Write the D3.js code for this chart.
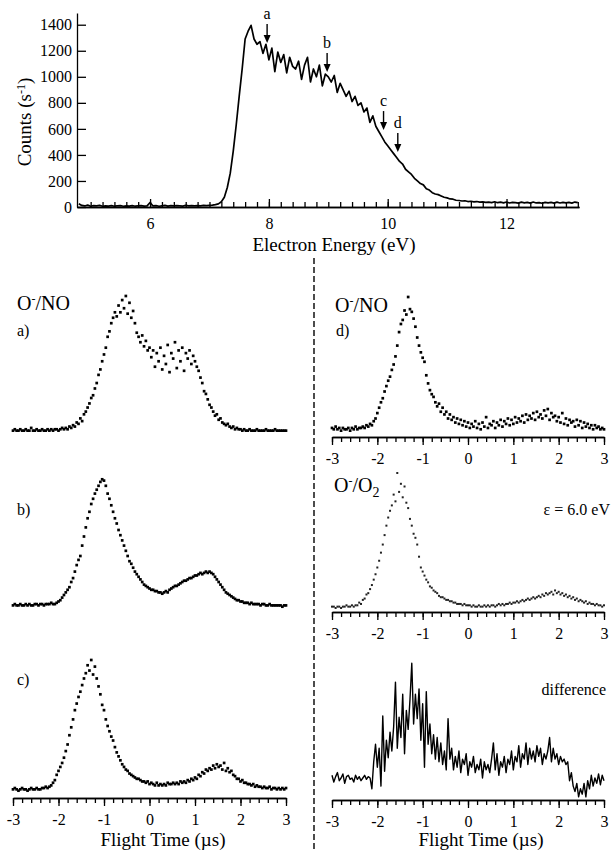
<!DOCTYPE html>
<html>
<head>
<meta charset="utf-8">
<script src="https://cdn.jsdelivr.net/npm/d3@7"></script>
<style>
body { margin: 0; background: #fff; }
svg { display: block; }
svg text { font-family: "Liberation Serif", "DejaVu Serif", serif; fill: #000; }
.axis path, .axis line { stroke: #000; stroke-width: 1.3; }
.axis text { font-family: "Liberation Serif", "DejaVu Serif", serif; font-size: 16px; }
</style>
</head>
<body>
<svg id="fig" width="613" height="850"></svg>
<script>
// ---- data: electron energy spectrum (4.80 .. 13.20 eV, 0.05 eV steps)
var ENERGY_START = 4.8, ENERGY_STEP = 0.05;
var spectrumCounts = [
  25,12,8,14,6,10,8,12,6,9,
  7,11,6,8,10,6,9,7,11,6,
  8,10,7,9,35,8,10,6,9,12,
  7,10,8,11,9,7,12,8,10,9,
  11,8,12,10,13,15,18,24,40,75,
  150,260,430,630,850,1060,1290,1350,1395,1290,
  1250,1270,1180,1250,1130,1220,1040,1190,1110,1170,
  1030,1150,1080,1060,1120,980,1090,1150,960,1060,
  1000,1090,930,1020,1000,960,1010,880,950,900,
  850,890,810,850,780,800,730,760,650,700,
  620,580,540,500,470,440,410,380,350,330,
  290,270,250,220,200,180,170,140,130,110,
  100,95,85,75,70,62,60,52,50,46,
  48,42,44,40,42,38,40,36,38,34,
  40,33,37,32,38,31,36,33,30,37,
  32,35,30,38,31,34,29,36,32,35,
  30,37,31,36,32,35,30,38,33
];
var countTicks = [0, 200, 400, 600, 800, 1000, 1200, 1400];
var energyLabels = [6, 8, 10, 12];

var arrowLabels = ["a", "b", "c", "d"];
var arrowEnergies = [7.97, 8.98, 9.93, 10.17];
var arrowTips = [1260, 1037, 591, 422];

// ---- data: flight-time distributions (-3 .. 3 us, 0.04 us steps), relative intensity
var T_START = -3, T_STEP = 0.04;
var panelA = [
  1,2,1,1,2,1,1,2,1,1, 3,1,1,2,1,1,2,1,1,2, 1,2,1,2,2,1,2,3,2,3,
  2,4,3,5,4,7,6,10,8,13, 15,18,21,25,27,32,36,42,46,52,
  57,62,70,74,80,84,88,85,93,88, 97,91,100,87,95,84,89,80,73,70,
  66,71,63,67,60,62,55,60,48,58, 52,62,46,56,50,64,44,58,54,66,
  47,60,52,62,45,58,54,60,50,56, 52,48,45,40,36,30,28,24,20,18,
  15,12,13,9,10,7,6,5,6,4, 3,4,2,3,2,2,1,2,1,1,
  2,1,1,1,2,1,1,1,1,2, 1,1,1,1,2,1,1,1,1,1, 1
];
var panelB = [
  2,3,2,2,3,2,2,3,2,3, 2,2,3,3,2,3,3,2,3,3, 3,4,3,3,4,5,6,8,10,12,
  14,16,20,23,28,33,37,40,48,55, 62,69,74,80,84,88,91,94,97,99,
  98,94,88,84,79,74,69,65,60,56, 52,48,44,40,36,34,31,28,26,24,
  22,20,18,17,16,15,14,14,13,13, 12,12,11,12,13,12,14,15,16,17,
  17,18,19,20,21,21,22,23,23,24, 25,25,26,27,26,27,28,27,28,27,
  26,24,22,20,18,16,14,12,11,10, 9,8,7,6,6,5,5,4,4,4,
  3,4,3,3,3,3,2,3,3,2, 2,3,2,2,2,2,2,2,1,2, 2
];
var panelC = [
  2,3,2,1,2,3,2,2,1,2, 3,2,2,3,2,2,3,3,4,3, 4,5,7,9,13,16,19,22,26,31,
  36,43,49,55,62,67,72,76,81,86, 90,96,92,100,89,95,86,80,74,66,
  62,55,50,46,42,39,34,30,27,24, 21,19,17,16,14,13,12,11,10,10,
  9,8,8,7,8,6,7,6,5,7, 5,6,5,6,5,7,6,6,7,6,
  7,6,8,7,8,7,9,8,10,9, 11,10,13,12,15,14,17,16,18,17,
  20,18,21,19,20,17,22,16,18,15, 16,13,12,10,10,8,9,7,7,6,
  6,5,6,4,5,4,4,3,4,3, 3,4,2,3,3,2,3,2,3,2, 3
];
var panelD = [
  3,2,4,2,3,1,3,2,2,3, 1,3,2,4,2,3,3,4,3,5, 4,6,5,8,10,14,18,22,25,30,
  34,38,41,46,50,56,64,74,80,83, 90,87,100,91,89,84,78,70,64,59,
  55,52,42,36,31,28,26,22,19,21, 15,18,13,15,10,13,9,11,7,10,
  6,9,5,8,4,7,3,6,4,8, 3,6,2,7,4,11,3,6,5,8,
  3,7,5,9,4,8,6,10,5,9, 6,11,7,10,8,12,7,13,9,12,
  10,14,9,15,11,13,10,16,12,17, 9,14,11,12,8,11,7,14,6,10,
  5,9,7,8,4,9,5,8,3,7, 4,6,3,5,2,5,3,4,2,3, 2
];
var panelO2 = [
  1,1,0,1,1,0,1,1,2,1, 1,2,1,2,2,4,3,6,7,10, 11,14,17,21,25,30,35,41,47,54,
  61,67,72,76,84,79,100,86,92,82, 90,78,74,66,61,55,52,47,38,30,
  27,24,21,19,16,15,13,12,11,9, 8,8,7,6,6,5,5,4,4,3,
  3,3,2,3,2,2,2,1,2,1, 1,2,1,1,2,1,2,1,2,2,
  1,2,3,2,3,2,3,3,4,3, 4,4,5,4,5,6,5,6,7,6,
  7,8,7,8,9,8,10,9,11,10, 11,12,10,13,11,12,10,11,9,10,
  8,9,7,8,6,7,5,6,5,4, 5,3,4,3,3,2,3,2,2,1, 2
];
var panelDiff = [
  2,-3,1,4,-2,0,3,-4,1,2, -1,0,-3,2,-1,1,-2,0,2,-1, 1,0,-8,12,25,8,22,-6,46,5,
  28,15,34,20,38,71,22,45,30,62, 18,50,36,58,85,40,62,44,66,28,
  55,8,64,25,40,18,32,14,30,12, 26,10,20,6,44,14,22,6,16,8,
  20,4,14,10,18,2,12,8,16,4, 10,6,14,0,12,6,10,4,14,26,
  6,18,2,12,8,16,4,14,10,20, 6,16,12,24,8,18,14,26,10,22,
  14,20,12,24,16,22,10,18,14,20, 30,12,22,14,18,10,16,12,14,10,
  12,-2,4,-6,-10,-4,-14,-8,-12,-4, -14,-2,-8,2,-6,0,-4,3,-5,2, -2
];
var timeLabels = [-3, -2, -1, 0, 1, 2, 3];

var SERIF = "Liberation Serif, DejaVu Serif, serif";
var svg = d3.select("#fig").attr("font-family", SERIF);

// ================= top: electron energy spectrum =================
var xE = d3.scaleLinear().domain([4.77, 13.22]).range([77, 579]);
var yC = d3.scaleLinear().domain([0, 1490]).range([207, 13]);

var line = d3.line()
  .x(function(d, i) { return xE(ENERGY_START + i * ENERGY_STEP); })
  .y(function(d) { return yC(d); });

svg.append("path").datum(spectrumCounts)
  .attr("d", line)
  .attr("fill", "none")
  .attr("stroke", "#000")
  .attr("stroke-width", 1.7)
  .attr("stroke-linejoin", "round");

// y axis, ticks pointing inward
svg.append("g").attr("class", "axis")
  .attr("transform", "translate(77,0)")
  .call(d3.axisLeft(yC).tickValues(countTicks).tickSize(-9).tickSizeOuter(0)
    .tickPadding(5).tickFormat(d3.format("d")))
  .attr("font-family", SERIF);

// x axis: minor ticks every 0.2 eV, labelled ones at even energies
var eMinor = d3.range(5, 13.21, 0.2);
svg.append("g").attr("class", "axis")
  .attr("transform", "translate(0,207)")
  .call(d3.axisBottom(xE).tickValues(eMinor).tickSize(-5).tickSizeOuter(0).tickFormat(""));
svg.append("g").attr("class", "axis")
  .attr("transform", "translate(0,207)")
  .call(d3.axisBottom(xE).tickValues(energyLabels).tickSize(-8).tickSizeOuter(0).tickPadding(11))
  .attr("font-family", SERIF)
  .select(".domain").attr("stroke-width", 2.2);

svg.append("text")
  .attr("x", 334).attr("y", 251)
  .attr("text-anchor", "middle")
  .attr("font-family", SERIF)
  .attr("font-size", 19)
  .text("Electron Energy (eV)");

var yTitle = svg.append("text")
  .attr("transform", "translate(31,122) rotate(-90)")
  .attr("text-anchor", "middle")
  .attr("font-family", SERIF)
  .attr("font-size", 19);
yTitle.append("tspan").text("Counts (s");
yTitle.append("tspan").attr("dy", -6).attr("font-size", 12).text("-1");
yTitle.append("tspan").attr("dy", 6).text(")");

// arrows marking the energies of panels a-d
var ARROW_LEN = 19;
arrowLabels.forEach(function(lab, i) {
  var ax = xE(arrowEnergies[i]), tip = yC(arrowTips[i]);
  svg.append("line")
    .attr("x1", ax).attr("x2", ax)
    .attr("y1", tip - ARROW_LEN).attr("y2", tip - 5)
    .attr("stroke", "#000").attr("stroke-width", 1.4);
  svg.append("path")
    .attr("d", "M" + (ax - 3.5) + "," + (tip - 8) + "L" + (ax + 3.5) + "," + (tip - 8) + "L" + ax + "," + tip + "Z")
    .attr("fill", "#000");
  svg.append("text")
    .attr("x", ax).attr("y", tip - ARROW_LEN - 5)
    .attr("text-anchor", "middle")
    .attr("font-family", SERIF)
    .attr("font-size", 16)
    .text(lab);
});

// ================= bottom: flight time panels =================
var xLeft = d3.scaleLinear().domain([-3, 3]).range([13, 286]);
var xRight = d3.scaleLinear().domain([-3, 3]).range([332, 604]);

function timeAt(i) { return T_START + i * T_STEP; }

function dots(vals, x, y0, y1, size, color) {
  var y = d3.scaleLinear().domain([0, 100]).range([y0, y1]);
  svg.append("g").selectAll("rect").data(vals).join("rect")
    .attr("x", function(d, i) { return x(timeAt(i)) - size / 2; })
    .attr("y", function(d) { return y(d) - size / 2; })
    .attr("width", size).attr("height", size)
    .attr("fill", color);
}

function trace(vals, x, y0, y1) {
  var y = d3.scaleLinear().domain([0, 100]).range([y0, y1]);
  svg.append("path").datum(vals)
    .attr("d", d3.line().x(function(d, i) { return x(timeAt(i)); }).y(function(d) { return y(d); }))
    .attr("fill", "none").attr("stroke", "#000").attr("stroke-width", 1.4)
    .attr("stroke-linejoin", "round");
}

var tMinor = d3.range(-3, 3.001, 0.2);
function timeAxis(x, ay) {
  svg.append("g").attr("class", "axis")
    .attr("transform", "translate(0," + ay + ")")
    .call(d3.axisBottom(x).tickValues(tMinor).tickSize(5).tickSizeOuter(0).tickFormat(""));
  svg.append("g").attr("class", "axis")
    .attr("transform", "translate(0," + ay + ")")
    .call(d3.axisBottom(x).tickValues(timeLabels).tickSize(8).tickSizeOuter(0).tickPadding(8)
      .tickFormat(function(d) { return d < 0 ? "-" + Math.abs(d) : String(d); }))
    .attr("font-family", SERIF)
    .select(".domain").attr("stroke-width", 1.6);
}

dots(panelA, xLeft, 432, 296, 2.7, "#000");
dots(panelB, xLeft, 608, 478, 2.7, "#000");
dots(panelC, xLeft, 792, 660, 2.7, "#000");
timeAxis(xLeft, 798);

dots(panelD, xRight, 432, 297, 2.7, "#000");
timeAxis(xRight, 437);
dots(panelO2, xRight, 608, 473, 2, "#222");
timeAxis(xRight, 612);
trace(panelDiff, xRight, 778, 643);
timeAxis(xRight, 800);

[163, 481].forEach(function(cx) {
  svg.append("text")
    .attr("x", cx).attr("y", 846)
    .attr("text-anchor", "middle")
    .attr("font-family", SERIF)
    .attr("font-size", 19)
    .text("Flight Time (\u00b5s)");
});

// dashed divider
svg.append("line")
  .attr("x1", 314).attr("x2", 314).attr("y1", 258).attr("y2", 850)
  .attr("stroke", "#000").attr("stroke-width", 1.4)
  .attr("stroke-dasharray", "6,3");

// panel labels
function ionLabel(x, y, second, sub) {
  var t = svg.append("text").attr("x", x).attr("y", y)
    .attr("font-family", SERIF).attr("font-size", 20);
  t.append("tspan").text("O");
  t.append("tspan").attr("dy", -7).attr("font-size", 12).text("-");
  t.append("tspan").attr("dy", 7).text("/" + second);
  if (sub) t.append("tspan").attr("dy", 5).attr("font-size", 14).text(sub);
}
ionLabel(17, 310, "NO");
ionLabel(335, 312, "NO");
ionLabel(334, 492, "O", "2");

function plainLabel(x, y, s, anchor) {
  svg.append("text").attr("x", x).attr("y", y)
    .attr("text-anchor", anchor || "start")
    .attr("font-family", SERIF)
    .attr("font-size", 16).text(s);
}
plainLabel(17, 336, "a)");
plainLabel(17, 515, "b)");
plainLabel(17, 685, "c)");
plainLabel(336, 336, "d)");
plainLabel(610, 515, "\u03b5 = 6.0 eV", "end");
plainLabel(606, 695, "difference", "end");
</script>
</body>
</html>
